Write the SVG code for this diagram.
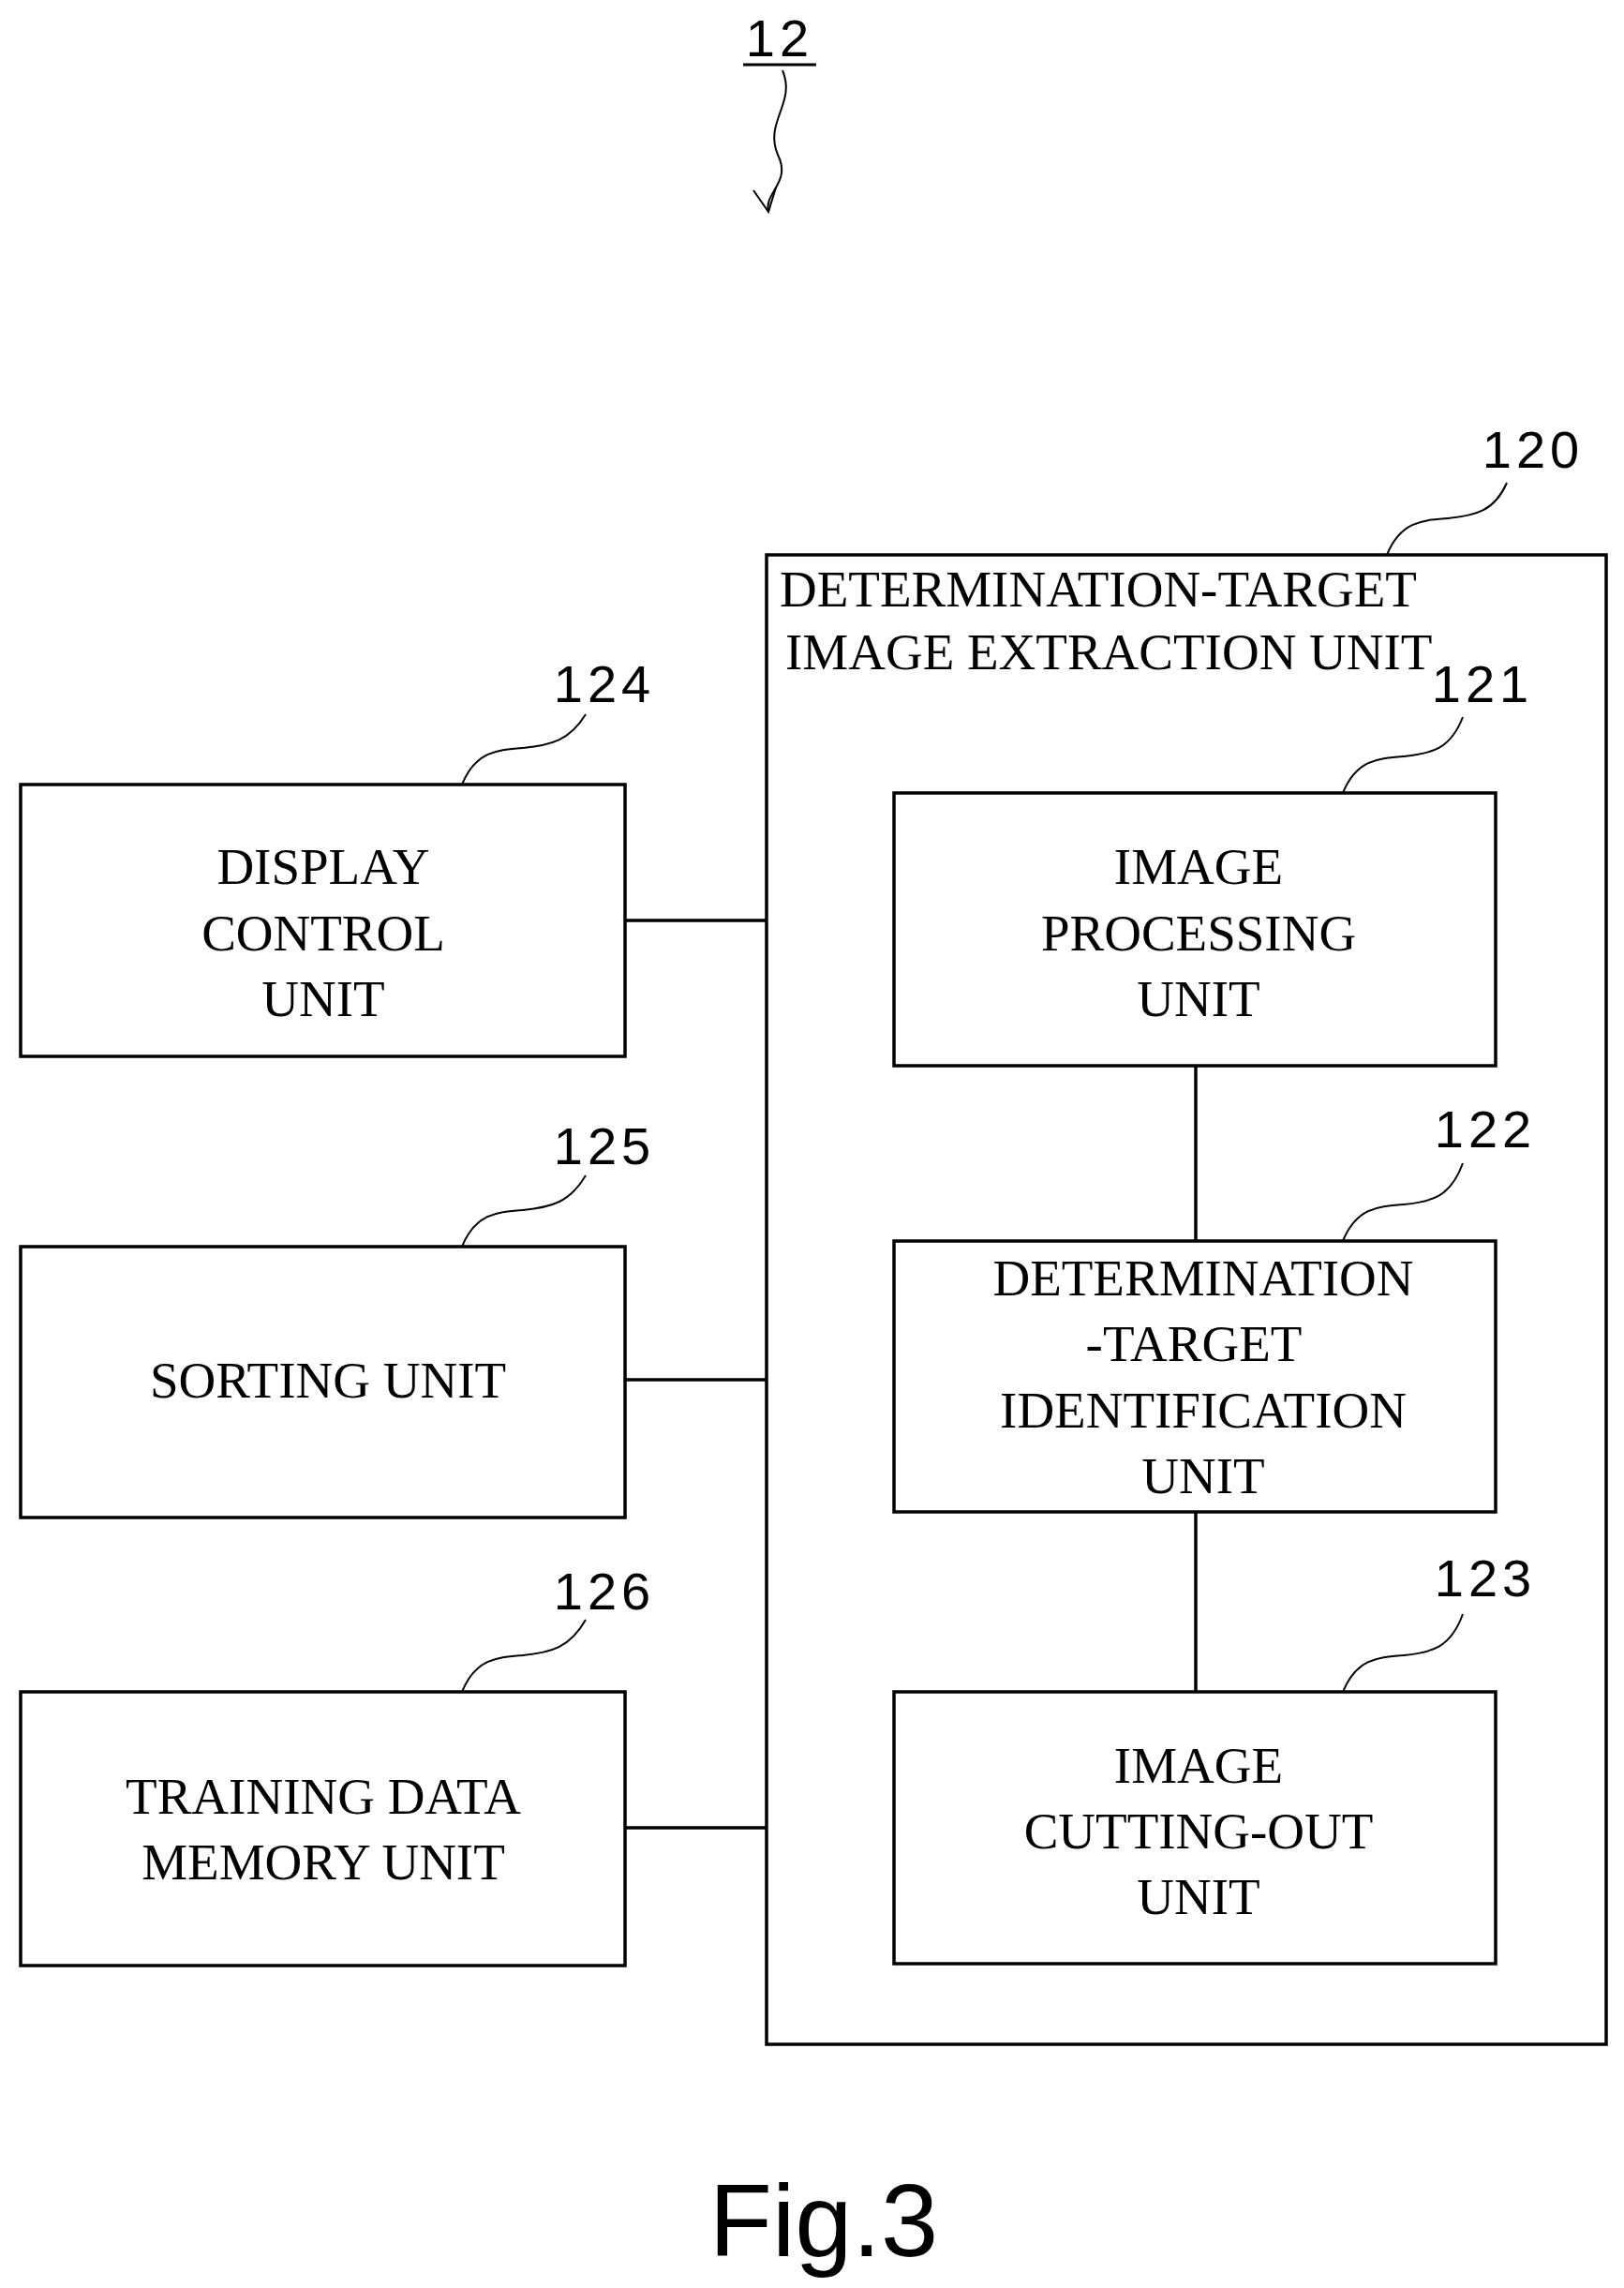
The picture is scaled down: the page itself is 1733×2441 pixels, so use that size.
<svg xmlns="http://www.w3.org/2000/svg" width="1733" height="2441" viewBox="0 0 1733 2441">
<style>
.b{fill:none;stroke:#000;stroke-width:3.5}
.l{fill:none;stroke:#000;stroke-width:2}
.t{font-family:"Liberation Serif",serif;font-size:55px;text-anchor:middle}
.n{font-family:"Liberation Sans",sans-serif;font-size:56px;letter-spacing:5px;text-anchor:middle}
</style>
<rect width="1733" height="2441" fill="#fff"/>
<g id="ref12">
<text x="832" y="60" class="n">12</text>
<line x1="793" y1="69" x2="871" y2="69" stroke="#000" stroke-width="3"/>
<path class="l" d="M835,75 C850,110 815,130 830,165 C845,195 815,205 820,226"/>
<path class="l" d="M804,203 L820,226 L828,200"/>
</g>
<g id="n120">
<rect class="b" x="818" y="592" width="896" height="1589"/>
<text x="832" y="647" style="font-family:'Liberation Serif',serif;font-size:55px">DETERMINATION-TARGET</text>
<text x="838" y="714" style="font-family:'Liberation Serif',serif;font-size:55px">IMAGE EXTRACTION UNIT</text>
<text x="1636" y="499" class="n">120</text>
<path class="l" d="M1480,592 C1495,555 1520,555 1545,553 C1575,550 1595,545 1608,515"/>
</g>
<g id="n124">
<rect class="b" x="22" y="837" width="645" height="290"/>
<text x="345" y="943" class="t">DISPLAY</text><text x="345" y="1014" class="t">CONTROL</text><text x="345" y="1084" class="t">UNIT</text>
<text x="645" y="749" class="n">124</text>
<path class="l" d="M493,837 C508,800 533,800 558,798 C588,795 608,790 625,762"/>
</g>
<g id="n125">
<rect class="b" x="22" y="1330" width="645" height="289"/>
<text x="350" y="1491" class="t">SORTING UNIT</text>
<text x="645" y="1242" class="n">125</text>
<path class="l" d="M493,1330 C508,1293 533,1293 558,1291 C588,1288 608,1283 625,1254"/>
</g>
<g id="n126">
<rect class="b" x="22" y="1805" width="645" height="292"/>
<text x="345" y="1935" class="t">TRAINING DATA</text><text x="345" y="2005" class="t">MEMORY UNIT</text>
<text x="645" y="1717" class="n">126</text>
<path class="l" d="M493,1805 C508,1768 533,1768 558,1766 C588,1763 608,1758 625,1728"/>
</g>
<g id="n121">
<rect class="b" x="954" y="846" width="642" height="291"/>
<text x="1279" y="943" class="t">IMAGE</text><text x="1279" y="1014" class="t">PROCESSING</text><text x="1279" y="1084" class="t">UNIT</text>
<text x="1582" y="749" class="n">121</text>
<path class="l" d="M1433,846 C1448,809 1473,809 1498,807 C1528,804 1548,799 1561,765"/>
</g>
<g id="n122">
<rect class="b" x="954" y="1324" width="642" height="289"/>
<text x="1284" y="1382" class="t">DETERMINATION</text><text x="1274" y="1452" class="t">-TARGET</text><text x="1284" y="1523" class="t">IDENTIFICATION</text><text x="1284" y="1593" class="t">UNIT</text>
<text x="1585" y="1224" class="n">122</text>
<path class="l" d="M1433,1324 C1448,1287 1473,1287 1498,1285 C1528,1282 1548,1277 1561,1241"/>
</g>
<g id="n123">
<rect class="b" x="954" y="1805" width="642" height="290"/>
<text x="1279" y="1902" class="t">IMAGE</text><text x="1279" y="1972" class="t">CUTTING-OUT</text><text x="1279" y="2042" class="t">UNIT</text>
<text x="1585" y="1703" class="n">123</text>
<path class="l" d="M1433,1805 C1448,1768 1473,1768 1498,1766 C1528,1763 1548,1758 1561,1722"/>
</g>
<g id="connectors" stroke="#000" stroke-width="3.5">
<line x1="667" y1="982" x2="818" y2="982"/>
<line x1="667" y1="1472" x2="818" y2="1472"/>
<line x1="667" y1="1950" x2="818" y2="1950"/>
<line x1="1276" y1="1137" x2="1276" y2="1324"/>
<line x1="1276" y1="1613" x2="1276" y2="1805"/>
</g>
<text x="879" y="2407" style="font-family:'Liberation Sans',sans-serif;font-size:110px;text-anchor:middle">Fig.3</text>
</svg>
